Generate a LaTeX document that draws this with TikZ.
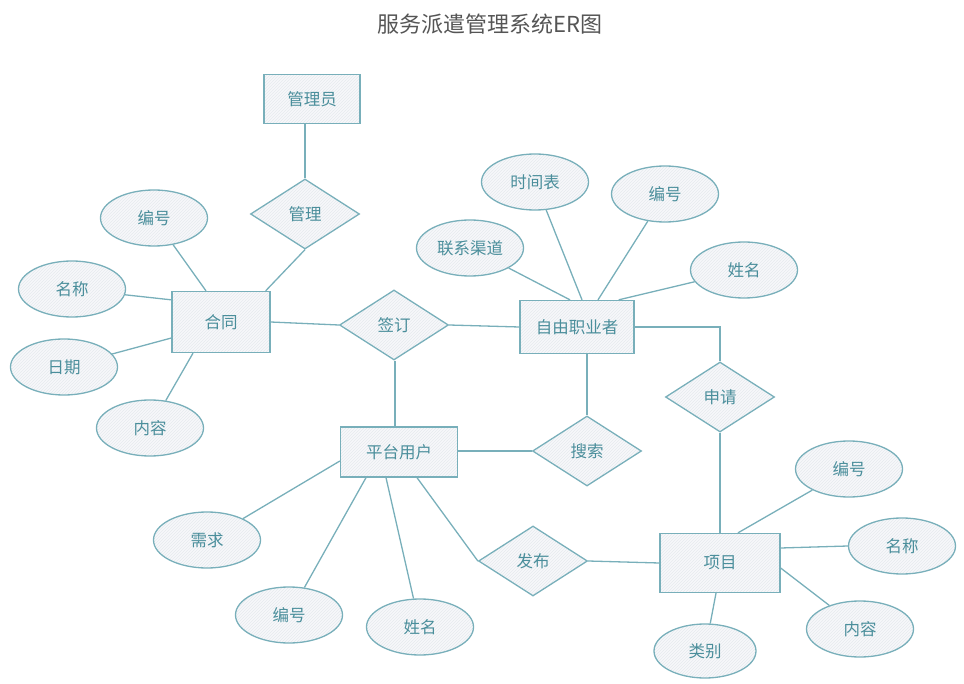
\documentclass[tikz,border=0pt]{standalone}
\usepackage{fontspec}
\setmainfont{Noto Sans CJK SC}
\usetikzlibrary{shapes.geometric,patterns}
\definecolor{strk}{HTML}{78AFBA}
\definecolor{txt}{HTML}{4A8E9B}
\definecolor{fil}{HTML}{F7F8FA}
\definecolor{hach}{HTML}{E6EAEE}
\definecolor{ttl}{HTML}{555555}
\tikzset{
  base/.style={draw=strk, line width=1.3pt, text=txt, font=\fontsize{16.5}{19}\selectfont, inner sep=0pt,
    preaction={fill=fil}, pattern=north east lines, pattern color=hach},
  ent/.style={base, rectangle, minimum width=#1},
  rel/.style={base, diamond, aspect=1.57, minimum width=109pt, minimum height=70pt},
  attr/.style={base, ellipse, minimum width=107pt, minimum height=56pt},
  conn/.style={draw=strk, line width=1.3pt}
}
\begin{document}
\begin{tikzpicture}[x=1pt,y=-1pt]
\useasboundingbox (0,0) rectangle (964,684);
\node[text=ttl, font=\fontsize{22}{26}\selectfont] (title) at (490,24) {服务派遣管理系统ER图};

% entities
\node[ent=96pt, minimum height=49pt] (gly) at (312,99) {管理员};
\node[ent=98pt, minimum height=61pt] (ht) at (221,322) {合同};
\node[ent=114pt, minimum height=53pt] (zy) at (577,327) {自由职业者};
\node[ent=117pt, minimum height=50pt] (pt) at (399,452) {平台用户};
\node[ent=120pt, minimum height=59pt] (xm) at (720,563) {项目};

% relationships
\node[rel] (gl) at (305,214) {管理};
\node[rel] (qd) at (394,325) {签订};
\node[rel] (sq) at (720,397) {申请};
\node[rel] (ss) at (587,451) {搜索};
\node[rel] (fb) at (533,561) {发布};

% attributes
\node[attr] (htbh) at (154,218) {编号};
\node[attr] (htmc) at (72,289) {名称};
\node[attr] (htrq) at (64,367) {日期};
\node[attr] (htnr) at (150,428) {内容};

\node[attr] (zysj) at (535,182) {时间表};
\node[attr] (zybh) at (665,194) {编号};
\node[attr] (zylx) at (470,248) {联系渠道};
\node[attr] (zyxm) at (744,270) {姓名};

\node[attr] (ptxq) at (207,540) {需求};
\node[attr] (ptbh) at (289,615) {编号};
\node[attr] (ptxm) at (420,627) {姓名};

\node[attr] (xmbh) at (849,469) {编号};
\node[attr] (xmmc) at (902,546) {名称};
\node[attr] (xmnr) at (860,629) {内容};
\node[attr, minimum width=102pt, minimum height=54pt] (xmlb) at (705,651) {类别};

% connectors
\draw[conn] ([xshift=-7pt]gly.south) -- (gl.north);
\draw[conn] (gl.south) -- ([xshift=-5pt]ht.north east);
\draw[conn] (htbh) -- ([xshift=-15pt]ht.north);
\draw[conn] (htmc) -- ([yshift=-9pt]ht.north west);
\draw[conn] (htrq) -- ([yshift=-16pt]ht.west);
\draw[conn] (htnr) -- ([xshift=-28pt]ht.south);
\draw[conn] (ht.east) -- (qd.west);
\draw[conn] (qd.east) -- (zy.west);
\draw[conn] ([xshift=1pt]qd.south) -- ([xshift=-4pt]pt.north);

\draw[conn] (zysj) -- ([xshift=5pt]zy.north);
\draw[conn] (zybh) -- ([xshift=21pt]zy.north);
\draw[conn] (zylx) -- ([xshift=-7pt]zy.north);
\draw[conn] (zyxm) -- ([xshift=-16pt]zy.north east);
\draw[conn] (zy.east) -| (sq.north);
\draw[conn] (sq.south) -- (xm.north);
\draw[conn] ([xshift=10pt]zy.south) -- (ss.north);

\draw[conn] ([yshift=1pt]pt.east) -- (ss.west);
\draw[conn] ([yshift=-9pt]pt.west) -- (ptxq);
\draw[conn] ([xshift=-33pt]pt.south) -- (ptbh);
\draw[conn] ([xshift=-13pt]pt.south) -- (ptxm);
\draw[conn] ([xshift=18pt]pt.south) -- (fb.west);
\draw[conn] (fb.east) -- (xm.west);

\draw[conn] ([xshift=18pt]xm.north) -- (xmbh);
\draw[conn] ([yshift=15pt]xm.east) -- (xmmc.west);
\draw[conn] ([yshift=-5pt]xm.east) -- (xmnr);
\draw[conn] ([xshift=-4pt]xm.south) -- (xmlb);
\end{tikzpicture}
\end{document}
